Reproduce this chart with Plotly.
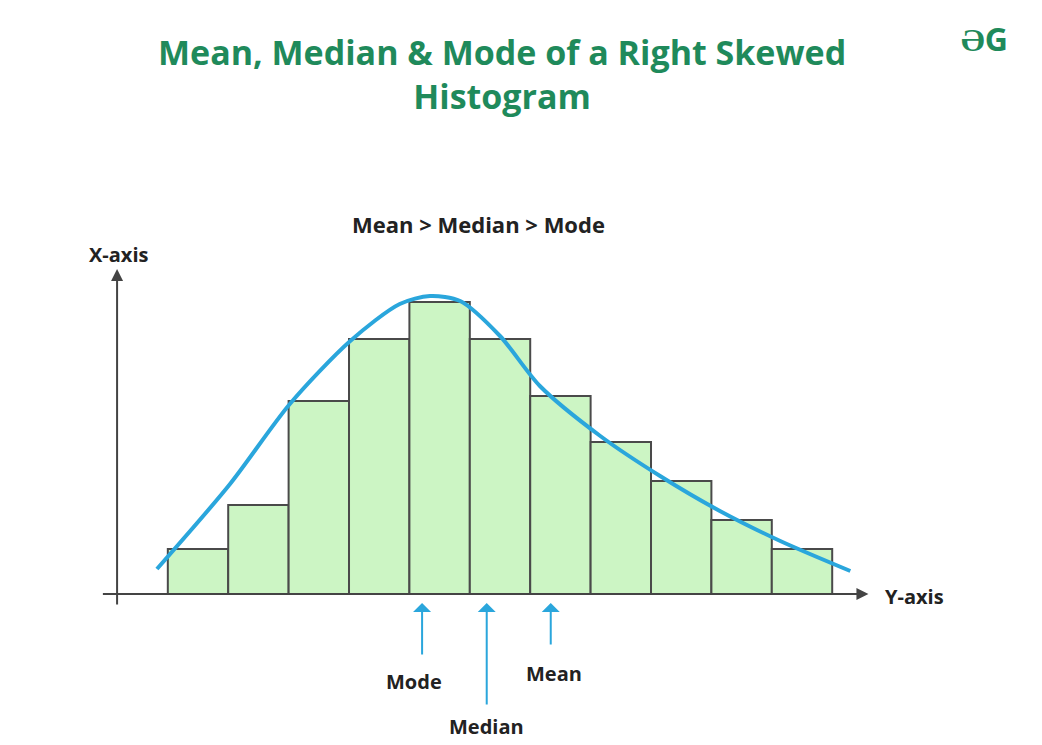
import plotly.graph_objects as go

bins = list(range(11))
heights = [45, 89, 193, 255, 292, 255, 198, 152, 113, 74, 45]
curve_x = [-0.68, 0.53, 1.52, 2.52, 3.34, 3.84, 4.34, 5.0, 5.66, 6.66, 7.65, 8.64, 9.64, 10.8]
curve_y = [25, 110, 190, 253, 290, 298, 293, 258, 208, 158, 118, 83, 53, 23]
marker_names = ["Mode", "Median", "Mean"]
marker_x = [3.71, 4.78, 5.84]
marker_tail = [-62, -112, -52]
label_y = [-87, -132, -79]

F = "Open Sans"
fig = go.Figure()
fig.add_bar(x=bins, y=heights, width=1, marker=dict(color="#ccf5c4", line=dict(color="#4a4a4a", width=2)))
fig.add_scatter(x=curve_x, y=curve_y, mode="lines", line=dict(color="#2aa6dc", width=4, shape="spline", smoothing=0.8))

anns = []
anns.append(dict(x=-1.34, y=325, ax=-1.34, ay=-12, xref="x", yref="y", axref="x", ayref="y",
                 showarrow=True, arrowhead=2, arrowsize=1.2, arrowwidth=2, arrowcolor="#444", text=""))
anns.append(dict(x=11.1, y=0, ax=-1.6, ay=0, xref="x", yref="y", axref="x", ayref="y",
                 showarrow=True, arrowhead=2, arrowsize=1.2, arrowwidth=2, arrowcolor="#444", text=""))
for n, mx, t, ly in zip(marker_names, marker_x, marker_tail, label_y):
    anns.append(dict(x=mx, y=-9, ax=mx, ay=t, xref="x", yref="y", axref="x", ayref="y",
                     showarrow=True, arrowhead=1, arrowsize=1.5, arrowwidth=2, arrowcolor="#2aa6dc", text=""))
    anns.append(dict(x=mx - (0.13 if n == "Mode" else 0 if n == "Median" else -0.06), y=ly, xref="x", yref="y",
                     showarrow=False, text="<b>%s</b>" % n, font=dict(size=20, color="#222", family=F)))
anns.append(dict(x=-1.31, y=340, xref="x", yref="y", showarrow=False, text="<b>X-axis</b>",
                 font=dict(size=20, color="#222", family=F)))
anns.append(dict(x=11.87, y=-2, xref="x", yref="y", showarrow=False, text="<b>Y-axis</b>",
                 font=dict(size=20, color="#222", family=F)))
anns.append(dict(x=4.65, y=370, xref="x", yref="y", showarrow=False, text="<b>Mean > Median > Mode</b>",
                 font=dict(size=22, color="#222", family=F)))
anns.append(dict(x=0.474, y=0.975, xref="paper", yref="paper", showarrow=False,
                 text="<b>Mean, Median & Mode of a Right Skewed<br>Histogram</b>",
                 font=dict(size=34, color="#1f8a5b", family=F)))
anns.append(dict(x=0.962, y=0.99, xref="paper", yref="paper", showarrow=False, text="<b>ƏG</b>",
                 font=dict(size=32, color="#1f8a5b", family=F)))

fig.update_layout(width=1042, height=745, margin=dict(l=0, r=0, t=0, b=0),
                  plot_bgcolor="white", paper_bgcolor="white", showlegend=False,
                  xaxis=dict(range=[-3.146, 14.106], visible=False),
                  yaxis=dict(range=[-159, 586], visible=False),
                  annotations=anns)
fig.write_html("out.html")
